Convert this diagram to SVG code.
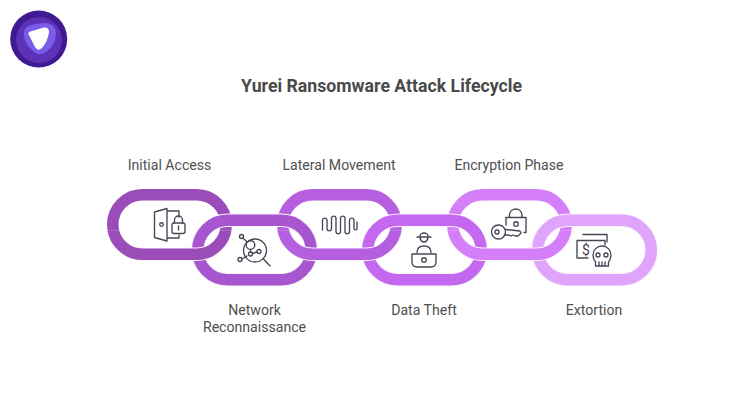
<svg xmlns="http://www.w3.org/2000/svg" width="740" height="420" viewBox="0 0 740 420">
<style>
text{font-family:Roboto,"Liberation Sans",sans-serif;fill:#505050;font-size:14.1px;text-anchor:middle}
.title{font-size:17.7px;font-weight:700;fill:#4a4a4a}
.halo{fill:none;stroke:#f9f2fc;stroke-width:13.5}
.ring{fill:none;stroke-width:11.5}
.ic{fill:none;stroke:#4b4453;stroke-width:1.35;stroke-linecap:round;stroke-linejoin:round}
</style>
<defs>
<rect id="link" x="0" y="0" width="113.500" height="59.500" rx="29.750"/>
<clipPath id="low"><rect x="-12" y="36" width="140" height="36"/></clipPath>
</defs>
<rect width="740" height="420" fill="#fff"/>
<g id="logo">
<circle cx="38.700" cy="39" r="28.500" fill="#3f1a90"/>
<circle cx="39" cy="40" r="23" fill="#5b32b8"/>
<path d="M24 36Q23 27 31 25L43 23Q55 22 56 33Q56 45 46 52Q38 57 32 50Q25 44 24 36Z" fill="#7a5ce8"/>
<path d="M30 37Q26 32 32 31L44 27.500Q49 27 49 32Q48 41 42 48Q38 52 35 47Z" fill="#fff"/>
</g>
<text class="title" x="381.500" y="92">Yurei Ransomware Attack Lifecycle</text>
<g id="node-1">
<use href="#link" x="112.750" y="194.750" class="ring" stroke="#9a4db8"/>
<text x="169.500" y="170">Initial Access</text>
<g class="ic"><path d="M154.500 212L167 208.500V241L154.500 237.500ZM167 211H179V217M167 238H179V235"/><circle cx="161.500" cy="224.500" r="1.800"/><rect x="172" y="223" width="13" height="10.500" rx="2"/><path d="M174.500 223V220A4 4 0 0 1 182.500 220V223M178.500 226V230"/></g>
</g>
<g id="node-3">
<use href="#link" x="282.750" y="194.750" class="ring" stroke="#b55fe0"/>
<text x="339" y="170">Lateral Movement</text>
<path class="ic" d="M322.500 230V220A2.300 2.300 0 0 1 327 220V229A2.300 2.300 0 0 0 331.500 229V218A2.300 2.300 0 0 1 336 218V232A2.300 2.300 0 0 0 340.500 232V218A2.300 2.300 0 0 1 345 218V232A2.300 2.300 0 0 0 349.500 232V220A2.300 2.300 0 0 1 354 220V229A1.700 1.700 0 0 0 357 229V222"/>
</g>
<g id="node-5">
<use href="#link" x="452.750" y="194.750" class="ring" stroke="#d47efa"/>
<text x="509" y="170">Encryption Phase</text>
<g class="ic"><path d="M506 225V217.500H526V232.500H524M509.500 217.500V214.500A6.300 6.300 0 0 1 522 214.500V217.500"/><circle cx="516" cy="224" r="2.300"/><circle cx="498.500" cy="232" r="7"/><circle cx="497" cy="232" r="2"/><path d="M505 229.500L520 231L521 233L518 236H515L513 235L511 236L509 235H505"/></g>
</g>
<g id="node-2">
<use href="#link" x="197.750" y="220.250" class="halo"/>
<use href="#link" x="197.750" y="220.250" class="ring" stroke="#a855d0"/>
<text x="254.500" y="315">Network</text>
<text x="254.500" y="332">Reconnaissance</text>
<g class="ic"><circle cx="255" cy="250.500" r="11.500"/><circle cx="250.500" cy="245" r="4.300"/><circle cx="250.500" cy="254" r="2"/><circle cx="259" cy="251.500" r="2"/><circle cx="241.500" cy="236.500" r="2"/><circle cx="240" cy="259.500" r="2"/><path d="M243 238L246.500 241.500M242 259L247 256M252.500 253.500L257 252M250.500 249.500V252M263 258.500L270 266"/></g>
</g>
<g id="node-4">
<use href="#link" x="367.750" y="220.250" class="halo"/>
<use href="#link" x="367.750" y="220.250" class="ring" stroke="#c468f0"/>
<text x="424" y="315">Data Theft</text>
<g class="ic"><path d="M420 236.500V236A4 3 0 0 1 428 236V236.500M417 237H431M420 237.500A4.200 6.500 0 0 0 428 237.500M417 252.500C417 248 420 246 424 246S431 248 431 252.500"/><path d="M412 254H436L436 262Q436 267 431 267H417Q412 267 412 262Z"/><circle cx="424" cy="260" r="2.300"/></g>
</g>
<g id="node-6">
<use href="#link" x="537.750" y="220.250" class="halo"/>
<use href="#link" x="537.750" y="220.250" class="ring" stroke="#e0a4fd"/>
<text x="594" y="315">Extortion</text>
<g class="ic"><path d="M583 234.500H607V242M605 245V240.500H577V258H588"/><path d="M595.500 262Q593 259 593 255A9 9 0 0 1 611 255Q611 259 608.500 262V266H595.500ZM599 262V266M602 262V266M605 262V266"/><circle cx="598" cy="255" r="2"/><circle cx="606" cy="255" r="2"/></g>
<text x="586" y="255" style="font-size:14px;fill:#4b4453">$</text>
</g>
<g id="connectors">
<g transform="translate(112.750 194.750)" clip-path="url(#low)"><use href="#link" class="halo"/><use href="#link" class="ring" stroke="#9a4db8"/></g>
<g transform="translate(282.750 194.750)" clip-path="url(#low)"><use href="#link" class="halo"/><use href="#link" class="ring" stroke="#b55fe0"/></g>
<g transform="translate(452.750 194.750)" clip-path="url(#low)"><use href="#link" class="halo"/><use href="#link" class="ring" stroke="#d47efa"/></g>
</g>
</svg>
